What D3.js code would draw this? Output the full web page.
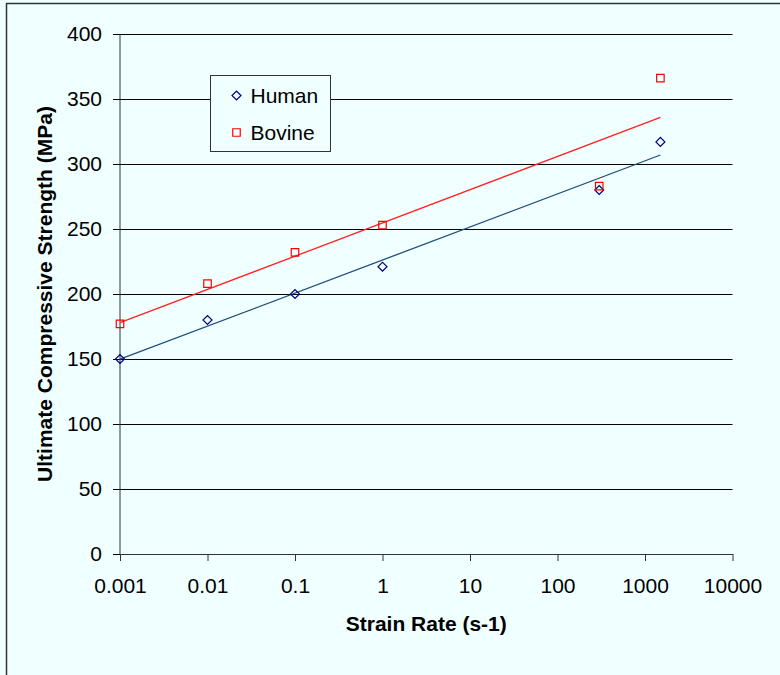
<!DOCTYPE html>
<html>
<head>
<meta charset="utf-8">
<script src="https://cdn.jsdelivr.net/npm/d3@7"></script>
<style>
  body { margin: 0; background: #f0ffff; }
  svg { display: block; font-family: "Liberation Sans", Arial, sans-serif; }
</style>
</head>
<body>
<div id="chart"></div>
<script>
// strain rates (s-1)
var strainRates = [0.001, 0.01, 0.1, 1, 300, 1500];
var humanValues = [150, 180, 200, 221, 280, 317];
var bovineValues = [177, 208, 232, 253, 283, 366];
var xTicks = [0.001, 0.01, 0.1, 1, 10, 100, 1000, 10000];
var yTicks = [0, 50, 100, 150, 200, 250, 300, 350, 400];

var width = 780, height = 675;
var plotLeft = 120, plotRight = 732.5, plotTop = 34, plotBottom = 554;

var svg = d3.select("#chart").append("svg")
    .attr("width", width)
    .attr("height", height);

svg.append("rect")
    .attr("x", 0).attr("y", 0)
    .attr("width", width).attr("height", height)
    .style("fill", "#f0ffff");

// outer frame, runs off the right and bottom edge
svg.append("rect")
    .attr("x", 6.5).attr("y", 3.5)
    .attr("width", 800).attr("height", 720)
    .style("fill", "none")
    .style("stroke", "#333")
    .style("stroke-width", 1.5);

var x = d3.scaleLog().domain([0.001, 10000]).range([plotLeft, plotRight]);
var y = d3.scaleLinear().domain([0, 400]).range([plotBottom, plotTop]);

// gridlines + y ticks
svg.append("g")
    .attr("transform", "translate(" + plotLeft + ",0)")
    .call(d3.axisLeft(y).tickValues(yTicks).tickSize(-(plotRight - plotLeft)).tickSizeOuter(0).tickPadding(18))
    .call(function(g){
        g.select(".domain").remove();
        g.selectAll(".tick line")
            .attr("x1", -7)
            .style("stroke", "#000")
            .style("stroke-width", 1);
        g.selectAll(".tick text")
            .style("font-size", "21px")
            .style("fill", "#000")
            .attr("font-family", "Liberation Sans, Arial, sans-serif");
    });

// y axis line
svg.append("line")
    .attr("x1", plotLeft).attr("x2", plotLeft)
    .attr("y1", plotTop).attr("y2", plotBottom)
    .style("stroke", "#333")
    .style("stroke-width", 1);

// x axis
svg.append("g")
    .attr("transform", "translate(0," + plotBottom + ")")
    .call(d3.axisBottom(x).tickValues(xTicks).tickFormat(function(d){ return String(+d.toFixed(3)); }).tickSize(7).tickSizeOuter(0).tickPadding(17))
    .call(function(g){
        g.select(".domain").style("stroke", "#333");
        g.selectAll(".tick line").style("stroke", "#333");
        g.selectAll(".tick text")
            .style("font-size", "21px")
            .style("fill", "#000")
            .attr("font-family", "Liberation Sans, Arial, sans-serif");
    });

// axis titles
svg.append("text")
    .attr("x", (plotLeft + plotRight) / 2)
    .attr("y", 631)
    .attr("text-anchor", "middle")
    .style("font-size", "21px")
    .style("font-weight", "bold")
    .text("Strain Rate (s-1)");

svg.append("text")
    .attr("transform", "translate(52," + (plotTop + plotBottom) / 2 + ") rotate(-90)")
    .attr("text-anchor", "middle")
    .style("font-size", "21px")
    .style("font-weight", "bold")
    .text("Ultimate Compressive Strength (MPa)");

// logarithmic trendline (least squares on log10 x)
function trend(vals){
    var lx = strainRates.map(function(d){ return Math.log10(d); });
    var mx = d3.mean(lx), my = d3.mean(vals);
    var sxy = d3.sum(lx, function(d, i){ return (d - mx) * (vals[i] - my); });
    var sxx = d3.sum(lx, function(d){ return (d - mx) * (d - mx); });
    var b = sxy / sxx, a = my - b * mx;
    var ends = d3.extent(strainRates);
    return ends.map(function(d){ return [d, a + b * Math.log10(d)]; });
}

var series = [
    {name: "Human", values: humanValues, marker: "#000080", line: "#1f4e79", diamond: true},
    {name: "Bovine", values: bovineValues, marker: "#ff0000", line: "#ff2020", diamond: false}
];

var line = d3.line()
    .x(function(d){ return x(d[0]); })
    .y(function(d){ return y(d[1]); });

series.forEach(function(s){
    svg.append("path")
        .datum(trend(s.values))
        .attr("d", line)
        .style("fill", "none")
        .style("stroke", s.line)
        .style("stroke-width", 1.3);
});

// diamond = square turned 45deg, so it is as wide as it is tall
function markerPath(s){
    return d3.symbol().type(d3.symbolSquare).size(s.diamond ? 40 : 56)();
}

series.forEach(function(s){
    svg.selectAll("path.pt-" + s.name)
        .data(s.values)
        .enter().append("path")
        .attr("class", "pt-" + s.name)
        .attr("transform", function(d, i){
            return "translate(" + x(strainRates[i]) + "," + y(d) + ")" + (s.diamond ? " rotate(45)" : "");
        })
        .attr("d", markerPath(s))
        .style("fill", "none")
        .style("stroke", s.marker)
        .style("stroke-width", 1.2);
});

// legend
var legend = svg.append("g").attr("transform", "translate(210.5,75.5)");
legend.append("rect")
    .attr("width", 120).attr("height", 76)
    .style("fill", "#f0ffff")
    .style("stroke", "#333")
    .style("stroke-width", 1);

series.forEach(function(s, i){
    var row = legend.append("g").attr("transform", "translate(0," + (20 + i * 37) + ")");
    row.append("path")
        .attr("transform", "translate(26,0)" + (s.diamond ? " rotate(45)" : ""))
        .attr("d", markerPath(s))
        .style("fill", "none")
        .style("stroke", s.marker)
        .style("stroke-width", 1.2);
    row.append("text")
        .attr("x", 40)
        .attr("y", 7)
        .style("font-size", "21px")
        .text(s.name);
});
</script>
</body>
</html>
